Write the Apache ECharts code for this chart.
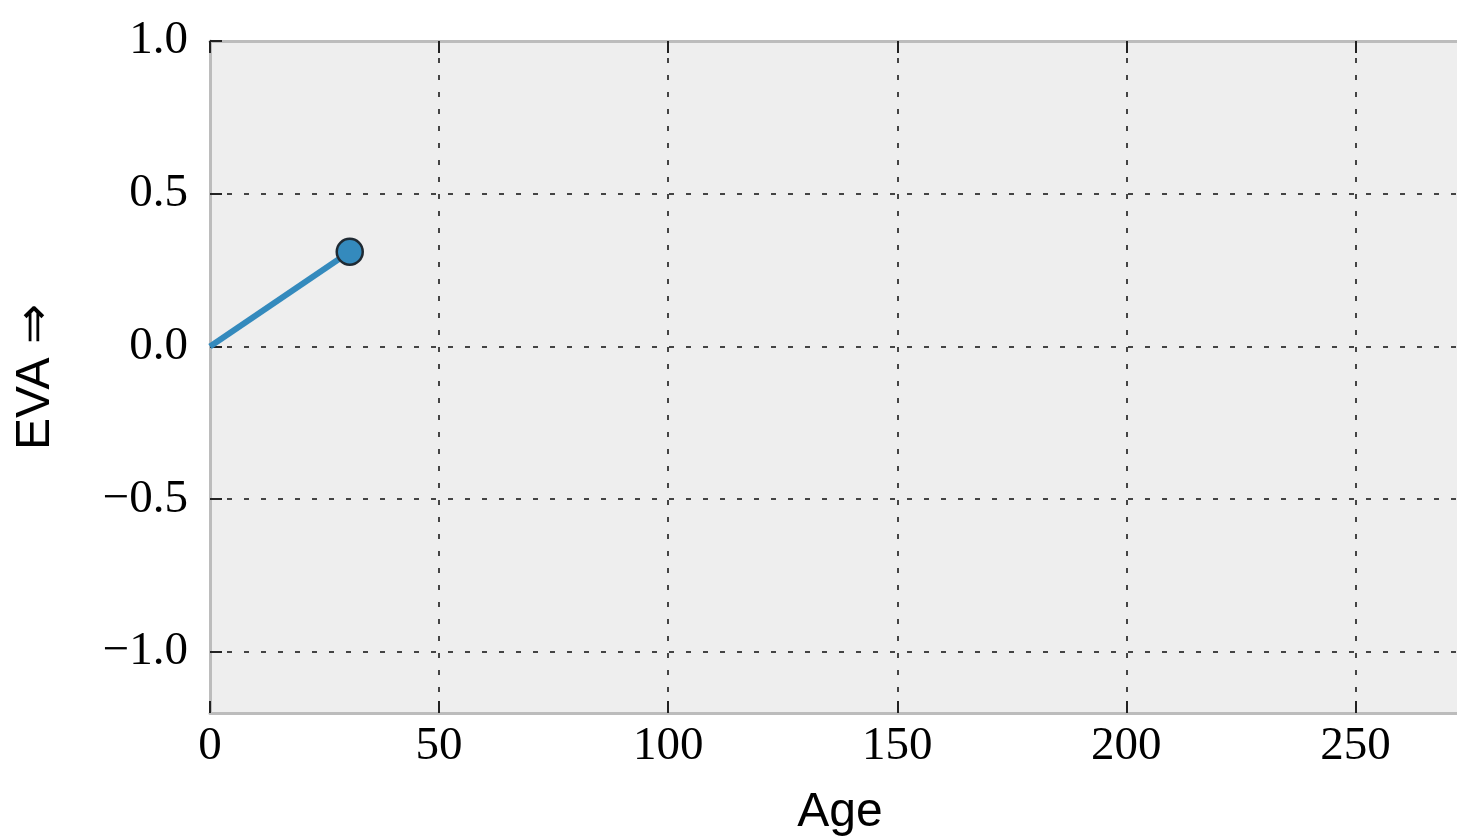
<!DOCTYPE html>
<html>
<head>
<meta charset="utf-8">
<script src="https://cdn.jsdelivr.net/npm/echarts@6/dist/echarts.min.js"></script>
<style>
  html, body { margin: 0; padding: 0; background: #ffffff; }
  #chart { width: 1457px; height: 840px; }
</style>
</head>
<body>
<div id="chart"></div>
<script>
// EVA as a function of age
const ageValues = [0, 30.5];
const evaValues = [0, 0.31];

const xTicks = [0, 50, 100, 150, 200, 250];
const yTicks = [-1.0, -0.5, 0.0, 0.5, 1.0];

const xRange = [0, 275];
const yRange = [-1.2, 1.0];

const points = ageValues.map((a, i) => [a, evaValues[i]]);

const spineColor = '#bcbcbc';
const tickColor = '#222222';
const gridColor = '#444444';
const serif = '"Liberation Serif", "DejaVu Serif", serif';
const sans = '"Liberation Sans", Arial, sans-serif';

const fmtX = v => String(Math.round(v));
const fmtY = v => (v < 0 ? '\u2212' : '') + Math.abs(v).toFixed(1);

const chart = echarts.init(document.getElementById('chart'), null, { renderer: 'canvas' });

const splitLineStyle = { show: true, lineStyle: { color: gridColor, width: 2, type: [5, 12] } };

chart.setOption({
  backgroundColor: '#ffffff',
  animation: false,
  grid: {
    left: 210, top: 41, width: 1260, height: 672,
    outerBoundsMode: 'none',
    containLabel: false,
    show: true, backgroundColor: '#eeeeee', borderWidth: 0
  },
  xAxis: [
    {
      type: 'value', min: xRange[0], max: xRange[1], position: 'bottom',
      name: 'Age', nameLocation: 'middle', nameGap: 76,
      nameTextStyle: { fontFamily: sans, fontSize: 48, color: '#000' },
      axisLine: { show: true, onZero: false, lineStyle: { color: spineColor, width: 3 } },
      axisTick: { show: true, inside: true, length: 12, customValues: xTicks,
        lineStyle: { color: tickColor, width: 2 } },
      axisLabel: { show: true, customValues: xTicks, margin: 10,
        fontFamily: serif, fontSize: 47, color: '#000', formatter: fmtX },
      splitLine: splitLineStyle
    },
    {
      type: 'value', min: xRange[0], max: xRange[1], position: 'top',
      axisLine: { show: true, onZero: false, lineStyle: { color: spineColor, width: 3 } },
      axisTick: { show: true, inside: true, length: 12, customValues: xTicks,
        lineStyle: { color: tickColor, width: 2 } },
      axisLabel: { show: false },
      splitLine: { show: false }
    }
  ],
  yAxis: [
    {
      type: 'value', min: yRange[0], max: yRange[1], position: 'left',
      name: 'EVA \u21D2', nameLocation: 'middle', nameRotate: 90, nameGap: 150,
      nameTextStyle: { fontFamily: sans, fontSize: 48, color: '#000' },
      axisLine: { show: true, onZero: false, lineStyle: { color: spineColor, width: 3 } },
      axisTick: { show: true, inside: true, length: 12, customValues: yTicks,
        lineStyle: { color: tickColor, width: 2 } },
      axisLabel: { show: true, customValues: yTicks, margin: 22,
        fontFamily: serif, fontSize: 47, color: '#000', formatter: fmtY },
      splitLine: splitLineStyle
    },
    {
      type: 'value', min: yRange[0], max: yRange[1], position: 'right',
      axisLine: { show: true, onZero: false, lineStyle: { color: spineColor, width: 3 } },
      axisTick: { show: true, inside: true, length: 12, customValues: yTicks,
        lineStyle: { color: tickColor, width: 2 } },
      axisLabel: { show: false },
      splitLine: { show: false }
    }
  ],
  series: [
    {
      type: 'line',
      data: points,
      xAxisIndex: 0, yAxisIndex: 0,
      lineStyle: { color: '#348ABD', width: 6 },
      // only the last sample carries a marker
      symbol: (val, params) => params.dataIndex === points.length - 1 ? 'circle' : 'none',
      symbolSize: 26,
      showSymbol: true,
      itemStyle: { color: '#348ABD', borderColor: '#1f2a33', borderWidth: 2.5 },
      z: 5
    }
  ]
});
</script>
</body>
</html>
